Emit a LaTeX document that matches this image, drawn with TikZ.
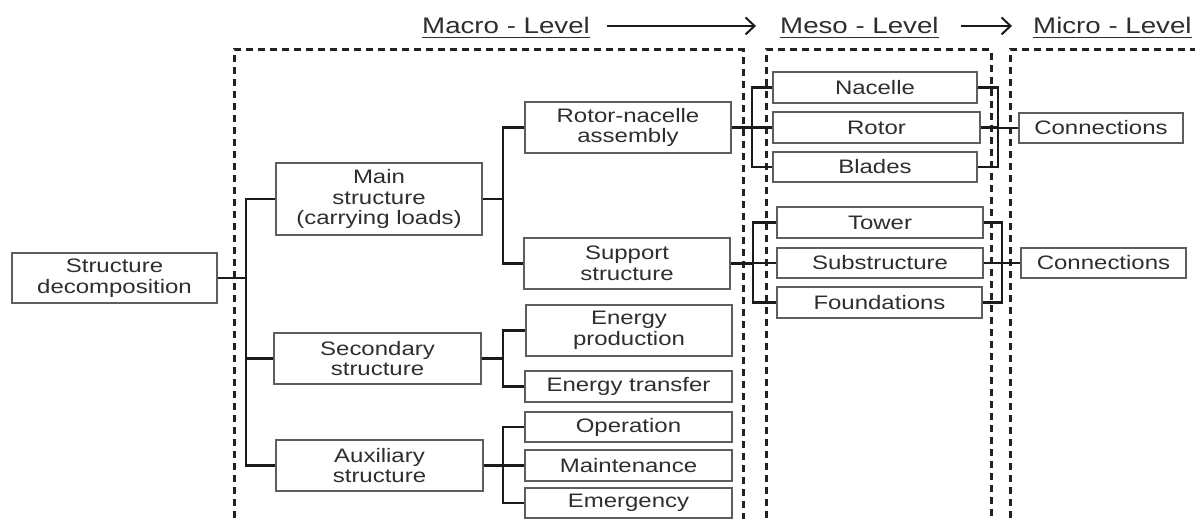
\documentclass[tikz,border=0pt]{standalone}
\usepackage{fontspec}
\setmainfont{Liberation Sans}[FakeStretch=1.23]
\usetikzlibrary{arrows.meta}
\definecolor{boxline}{HTML}{5E5E5E}
\definecolor{txt}{HTML}{2E2E2E}
\definecolor{conline}{HTML}{1A1A1A}
\definecolor{dashline}{HTML}{222222}
\tikzset{
  box/.style={draw=boxline, line width=1.8pt, fill=white, inner sep=0pt, align=center,
    text=txt, font=\fontsize{19.5}{20.5}\selectfont},
  conn/.style={draw=conline, line width=2.4pt},
  region/.style={draw=dashline, line width=3pt, dash pattern=on 7pt off 5pt},
  lvl/.style={inner sep=0pt, text=txt, font=\fontsize{22.5}{24}\selectfont},
  lvlarrow/.style={draw=conline, line width=2pt, -{Straight Barb[length=9pt,width=17pt,line width=2pt]}},
  uline/.style={draw=txt, line width=1.5pt}
}
\begin{document}
\begin{tikzpicture}[x=1pt,y=-1pt]
\useasboundingbox (0,0) rectangle (1195,519);
% level regions
\draw[region] (234,530) -- (234,50) -- (743,50) -- (743,530);
\draw[region] (766,530) -- (766,50) -- (991,50) -- (991,530);
\draw[region] (1010,530) -- (1010,50) -- (1205,50);
% level titles
\node[lvl, anchor=base west] (mac) at (422,34) {Macro - Level};
\node[lvl, anchor=base west] (mes) at (780,34) {Meso - Level};
\node[lvl, anchor=base west] (mic) at (1033,34) {Micro - Level};
\foreach \n in {mac,mes,mic}{
  \draw[uline] ([yshift=-3.5pt]\n.base west) -- ([yshift=-3.5pt]\n.base east);
}
\draw[lvlarrow, shorten <=17pt, shorten >=24pt] (mac.east) -- (mes.west);
\draw[lvlarrow, shorten <=22pt, shorten >=21pt] (mes.east) -- (mic.west);
% trunk coordinates
\coordinate (T1) at (246,0);
\coordinate (T2) at (503,0);
\coordinate (T3) at (752,0);
\coordinate (T4) at (998,0);
\coordinate (T5) at (753,0);
\coordinate (T6) at (1002,0);
% boxes
\node[box, minimum width=205pt, minimum height=50pt] (sd) at (114.5,278) {Structure\\decomposition};
\node[box, minimum width=206pt, minimum height=72pt] (main) at (379,199) {Main\\structure\\(carrying loads)};
\node[box, minimum width=207pt, minimum height=51pt] (sec) at (377.5,358.5) {Secondary\\structure};
\node[box, minimum width=207pt, minimum height=51pt] (aux) at (379.5,465.5) {Auxiliary\\structure};
\node[box, minimum width=206pt, minimum height=51pt] (rna) at (628,127.5) {Rotor-nacelle\\assembly};
\node[box, minimum width=206pt, minimum height=51pt] (sup) at (627,263.5) {Support\\structure};
\node[box, minimum width=206pt, minimum height=51pt] (ep) at (629,330.5) {Energy\\production};
\node[box, minimum width=207pt, minimum height=31pt] (et) at (628.5,386.5) {Energy transfer};
\node[box, minimum width=207pt, minimum height=30pt] (op) at (628.5,427) {Operation};
\node[box, minimum width=207pt, minimum height=31pt] (mt) at (628.5,465.5) {Maintenance};
\node[box, minimum width=207pt, minimum height=30pt] (em) at (628.5,503) {Emergency};
\node[box, minimum width=204pt, minimum height=31pt] (nac) at (875,87.5) {Nacelle};
\node[box, minimum width=207pt, minimum height=31pt] (rot) at (876.5,127.5) {Rotor};
\node[box, minimum width=204pt, minimum height=30pt] (bla) at (875,167) {Blades};
\node[box, minimum width=206pt, minimum height=31pt] (tow) at (880,222.5) {Tower};
\node[box, minimum width=206pt, minimum height=30pt] (sub) at (880,263) {Substructure};
\node[box, minimum width=205pt, minimum height=31pt] (fou) at (879.5,302.5) {Foundations};
\node[box, minimum width=164pt, minimum height=30pt] (con1) at (1101,128) {Connections};
\node[box, minimum width=165pt, minimum height=30pt] (con2) at (1103.5,263) {Connections};
% connectors: level 1
\draw[conn] (sd.east) -- (sd.east -| T1);
\draw[conn] (main.west) -- (main.west -| T1) -- (aux.west -| T1) -- (aux.west);
\draw[conn] (sec.west) -- (sec.west -| T1);
% main structure
\draw[conn] (main.east) -- (main.east -| T2);
\draw[conn] (rna.west) -- (rna.west -| T2) -- (sup.west -| T2) -- (sup.west);
% secondary
\draw[conn] (sec.east) -- (sec.east -| T2);
\draw[conn] (ep.west) -- (ep.west -| T2) -- (et.west -| T2) -- (et.west);
% auxiliary
\draw[conn] (aux.east) -- (aux.east -| T2);
\draw[conn] (op.west) -- (op.west -| T2) -- (em.west -| T2) -- (em.west);
\draw[conn] (mt.west) -- (mt.west -| T2);
% rotor-nacelle assembly
\draw[conn] (rna.east) -- (rna.east -| T3);
\draw[conn] (nac.west) -- (nac.west -| T3) -- (bla.west -| T3) -- (bla.west);
\draw[conn] (rot.west) -- (rot.west -| T3);
\draw[conn] (nac.east) -- (nac.east -| T4) -- (bla.east -| T4) -- (bla.east);
\draw[conn] (rot.east) -- (rot.east -| T4);
\draw[conn] (con1.west) -- (con1.west -| T4);
% support structure
\draw[conn] (sup.east) -- (sup.east -| T5);
\draw[conn] (tow.west) -- (tow.west -| T5) -- (fou.west -| T5) -- (fou.west);
\draw[conn] (sub.west) -- (sub.west -| T5);
\draw[conn] (tow.east) -- (tow.east -| T6) -- (fou.east -| T6) -- (fou.east);
\draw[conn] (sub.east) -- (sub.east -| T6);
\draw[conn] (con2.west) -- (con2.west -| T6);
\end{tikzpicture}
\end{document}
